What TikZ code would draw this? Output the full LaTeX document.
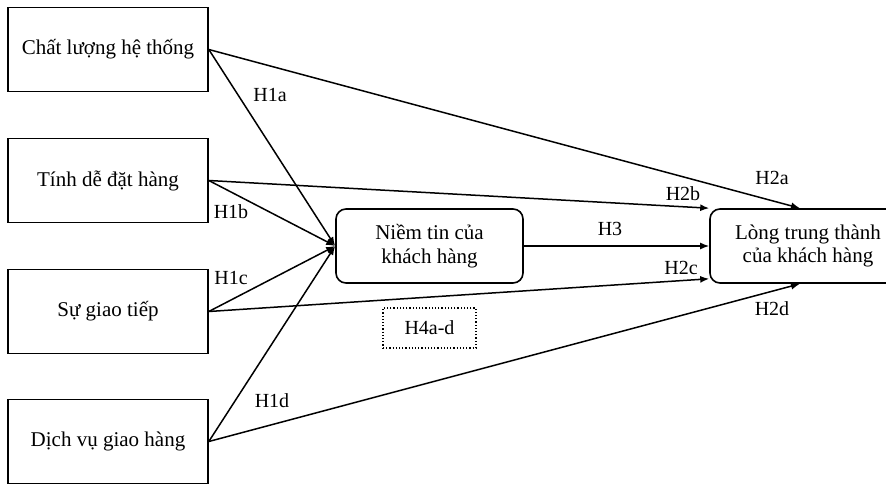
\documentclass[tikz,border=0pt]{standalone}
\usepackage{fontspec}
\setmainfont{Liberation Serif}
\usetikzlibrary{arrows.meta}

\tikzset{
  factor/.style={rectangle, draw, line width=1.6pt, minimum width=200pt, minimum height=84pt, inner sep=0pt, font=\fontsize{21}{24}\selectfont},
  construct/.style={rectangle, rounded corners=10pt, draw, line width=1.6pt, minimum height=74pt, inner sep=0pt, align=center, font=\fontsize{21}{23.5}\selectfont},
  hlabel/.style={font=\fontsize{20}{22}\selectfont, inner sep=0pt},
  path/.style={line width=1.5pt, -{Latex[length=9pt,width=7pt]}}
}

\begin{document}
\begin{tikzpicture}[x=1pt, y=-1pt]
    \clip (0,0) rectangle (886,484);
    \useasboundingbox (0,0) rectangle (886,484);

    \draw 
    (108, 49.5) node[factor](CL){Chất lượng hệ thống}
    (108, 180.5) node[factor](TD){Tính dễ đặt hàng}
    (108, 311.5) node[factor](SG){Sự giao tiếp}
    (108, 441.5) node[factor](DV){Dịch vụ giao hàng}
    (429.5, 246) node[construct, minimum width=187pt](NT){Niềm tin của\\khách hàng}
    (808, 246) node[construct, minimum width=196pt](LT){Lòng trung thành\\của khách hàng}
    (429.5, 328) node[rectangle, draw, dotted, line width=1.2pt, minimum width=93pt, minimum height=40pt, hlabel](H4){H4a-d};

    \draw[path] (CL.east) -- (NT.west);
    \draw[path] (CL.east) -- ([xshift=-8pt]LT.north);
    \draw[path] (TD.east) -- (NT.west);
    \draw[path] (TD.east) -- (LT.north west);
    \draw[path] (SG.east) -- (NT.west);
    \draw[path] (SG.east) -- ([yshift=5pt]LT.south west);
    \draw[path] (DV.east) -- (NT.west);
    \draw[path] (DV.east) -- ([xshift=-8pt]LT.south);
    \draw[path] (NT.east) -- (LT.west);

    \node[hlabel] (l1a) at (270, 95) {H1a};
    \node[hlabel] (l1b) at (231, 212) {H1b};
    \node[hlabel] (l1c) at (231, 278) {H1c};
    \node[hlabel] (l1d) at (272, 401) {H1d};
    \node[hlabel] (l2a) at (772, 178) {H2a};
    \node[hlabel] (l2b) at (683, 194) {H2b};
    \node[hlabel] (l3) at (610, 229) {H3};
    \node[hlabel] (l2c) at (681, 268) {H2c};
    \node[hlabel] (l2d) at (772, 309) {H2d};

  \end{tikzpicture}
\end{document}
